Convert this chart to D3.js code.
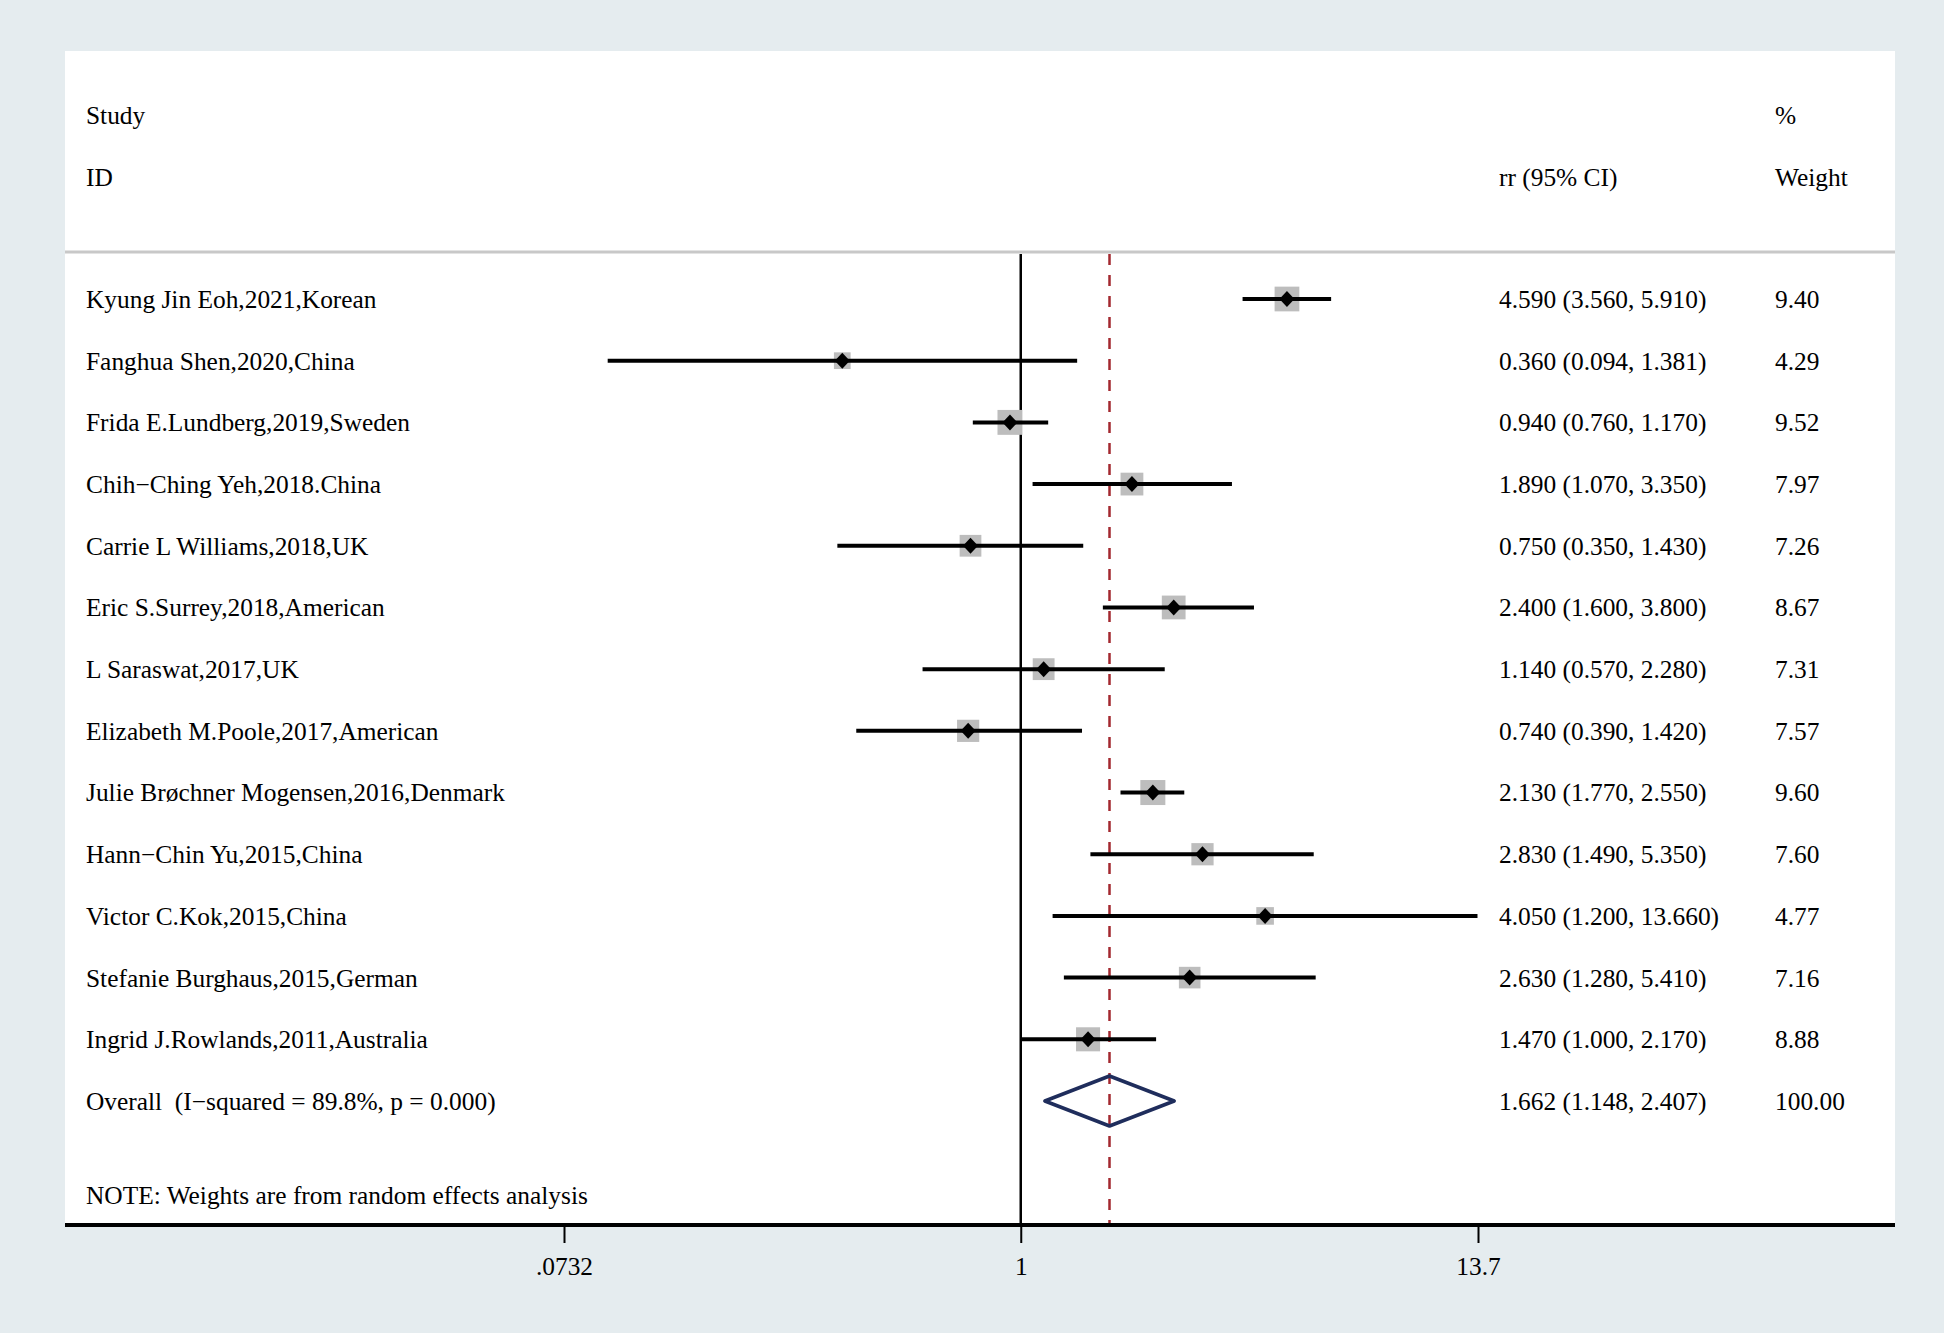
<!DOCTYPE html>
<html>
<head>
<meta charset="utf-8">
<script src="https://cdn.jsdelivr.net/npm/d3@7"></script>
<style>
  html, body { margin: 0; padding: 0; background: #e5ecef; }
  svg { display: block; }
  text { font-family: "Liberation Serif", "Times New Roman", serif; fill: #000; }
</style>
</head>
<body>
<svg id="chart" width="1944" height="1333"></svg>
<script>
// ---- data ----
const studies = [
  "Kyung Jin Eoh,2021,Korean",
  "Fanghua Shen,2020,China",
  "Frida E.Lundberg,2019,Sweden",
  "Chih\u2212Ching Yeh,2018.China",
  "Carrie L Williams,2018,UK",
  "Eric S.Surrey,2018,American",
  "L Saraswat,2017,UK",
  "Elizabeth M.Poole,2017,American",
  "Julie Br\u00f8chner Mogensen,2016,Denmark",
  "Hann\u2212Chin Yu,2015,China",
  "Victor C.Kok,2015,China",
  "Stefanie Burghaus,2015,German",
  "Ingrid J.Rowlands,2011,Australia"
];
const rr     = [4.590, 0.360, 0.940, 1.890, 0.750, 2.400, 1.140, 0.740, 2.130, 2.830, 4.050, 2.630, 1.470];
const lower  = [3.560, 0.094, 0.760, 1.070, 0.350, 1.600, 0.570, 0.390, 1.770, 1.490, 1.200, 1.280, 1.000];
const upper  = [5.910, 1.381, 1.170, 3.350, 1.430, 3.800, 2.280, 1.420, 2.550, 5.350, 13.660, 5.410, 2.170];
const weight = [9.40, 4.29, 9.52, 7.97, 7.26, 8.67, 7.31, 7.57, 9.60, 7.60, 4.77, 7.16, 8.88];

const overallLabel = "Overall  (I\u2212squared = 89.8%, p = 0.000)";
const overall = { rr: 1.662, lower: 1.148, upper: 2.407, weight: "100.00" };
const tickValues = [0.0732, 1, 13.7];
const tickLabels = [".0732", "1", "13.7"];
const noteText = "NOTE: Weights are from random effects analysis";

// ---- layout ----
const svg = d3.select("#chart");
const W = 1944, H = 1333;
const panel = { x0: 65, x1: 1895, y0: 51, y1: 1224 };
const headerLineY = 252;
const axisY = 1225;
const fs = 25.4;
const colStudy = 86, colRR = 1499, colW = 1775;

const x = d3.scaleLog().domain([0.0732, 13.7]).range([564, 1478]);
const y = d3.scaleLinear().domain([0, 13]).range([299, 1101]);
const boxSize = d3.scaleSqrt().domain([0, 9.6]).range([0, 25]);

svg.append("rect").attr("x", 0).attr("y", 0).attr("width", W).attr("height", H).attr("fill", "#e5ecef");
svg.append("rect").attr("x", panel.x0).attr("y", panel.y0)
  .attr("width", panel.x1 - panel.x0).attr("height", panel.y1 - panel.y0).attr("fill", "#ffffff");

// header separator
svg.append("line").attr("x1", panel.x0).attr("x2", panel.x1)
  .attr("y1", headerLineY).attr("y2", headerLineY)
  .attr("stroke", "#c8c8c8").attr("stroke-width", 3);

// headers
const hdr = svg.append("g").style("font-size", fs + "px");
hdr.append("text").attr("x", colStudy).attr("y", 115).attr("dy", "0.35em").text("Study");
hdr.append("text").attr("x", colStudy).attr("y", 177).attr("dy", "0.35em").text("ID");
hdr.append("text").attr("x", colRR).attr("y", 177).attr("dy", "0.35em").text("rr (95% CI)");
hdr.append("text").attr("x", colW).attr("y", 115).attr("dy", "0.35em").text("%");
hdr.append("text").attr("x", colW).attr("y", 177).attr("dy", "0.35em").text("Weight");

// null line at 1
svg.append("line").attr("x1", x(1)).attr("x2", x(1))
  .attr("y1", headerLineY + 2).attr("y2", axisY)
  .attr("stroke", "#000").attr("stroke-width", 2.5);

// overall dashed line
svg.append("line").attr("x1", x(overall.rr)).attr("x2", x(overall.rr))
  .attr("y1", headerLineY + 2).attr("y2", axisY)
  .attr("stroke", "#a3282f").attr("stroke-width", 2.5)
  .attr("stroke-dasharray", "11,10");

// study rows
const rows = svg.append("g").selectAll("g").data(studies.map((s, i) => ({
  s, i, rr: rr[i], lo: lower[i], hi: upper[i], w: weight[i]
}))).join("g");

rows.append("rect")
  .attr("x", d => x(d.rr) - boxSize(d.w) / 2)
  .attr("y", d => y(d.i) - boxSize(d.w) / 2)
  .attr("width", d => boxSize(d.w))
  .attr("height", d => boxSize(d.w))
  .attr("fill", "#bdbdbd");

rows.append("line")
  .attr("x1", d => x(d.lo)).attr("x2", d => x(d.hi))
  .attr("y1", d => y(d.i)).attr("y2", d => y(d.i))
  .attr("stroke", "#000").attr("stroke-width", 4);

rows.append("path")
  .attr("d", d => {
    const cx = x(d.rr), cy = y(d.i), r = 7.5;
    return `M${cx - r},${cy} L${cx},${cy - r - 0.5} L${cx + r},${cy} L${cx},${cy + r + 0.5} Z`;
  })
  .attr("fill", "#000");

rows.append("text").attr("x", colStudy).attr("y", d => y(d.i)).attr("dy", "0.35em")
  .style("font-size", fs + "px").text(d => d.s);
rows.append("text").attr("x", colRR).attr("y", d => y(d.i)).attr("dy", "0.35em")
  .style("font-size", fs + "px")
  .text(d => `${d.rr.toFixed(3)} (${d.lo.toFixed(3)}, ${d.hi.toFixed(3)})`);
rows.append("text").attr("x", colW).attr("y", d => y(d.i)).attr("dy", "0.35em")
  .style("font-size", fs + "px").text(d => d.w.toFixed(2));

// overall row
const oy = y(13);
svg.append("path")
  .attr("d", `M${x(overall.lower)},${oy} L${x(overall.rr)},${oy - 25} L${x(overall.upper)},${oy} L${x(overall.rr)},${oy + 25} Z`)
  .attr("fill", "none").attr("stroke", "#1f2d5c").attr("stroke-width", 3.5)
  .attr("stroke-linejoin", "round");
svg.append("text").attr("x", colStudy).attr("y", oy).attr("dy", "0.35em")
  .style("font-size", fs + "px").style("white-space", "pre").attr("xml:space", "preserve")
  .text(overallLabel);
svg.append("text").attr("x", colRR).attr("y", oy).attr("dy", "0.35em")
  .style("font-size", fs + "px")
  .text(`${overall.rr.toFixed(3)} (${overall.lower.toFixed(3)}, ${overall.upper.toFixed(3)})`);
svg.append("text").attr("x", colW).attr("y", oy).attr("dy", "0.35em")
  .style("font-size", fs + "px").text(overall.weight);

// note
svg.append("text").attr("x", colStudy).attr("y", 1195).attr("dy", "0.35em")
  .style("font-size", fs + "px").text(noteText);

// axis
const axis = d3.axisBottom(x).tickValues(tickValues)
  .tickFormat((d, i) => tickLabels[i]).tickSize(18).tickPadding(14);
const ax = svg.append("g").attr("transform", `translate(0,${axisY})`).call(axis);
ax.select(".domain").remove();
ax.selectAll(".tick line").attr("stroke", "#000").attr("stroke-width", 2);
ax.selectAll(".tick text").style("font-family", '"Liberation Serif", "Times New Roman", serif')
  .style("font-size", fs + "px").attr("fill", "#000");
svg.append("line").attr("x1", panel.x0).attr("x2", panel.x1)
  .attr("y1", axisY).attr("y2", axisY).attr("stroke", "#000").attr("stroke-width", 4);
</script>
</body>
</html>
